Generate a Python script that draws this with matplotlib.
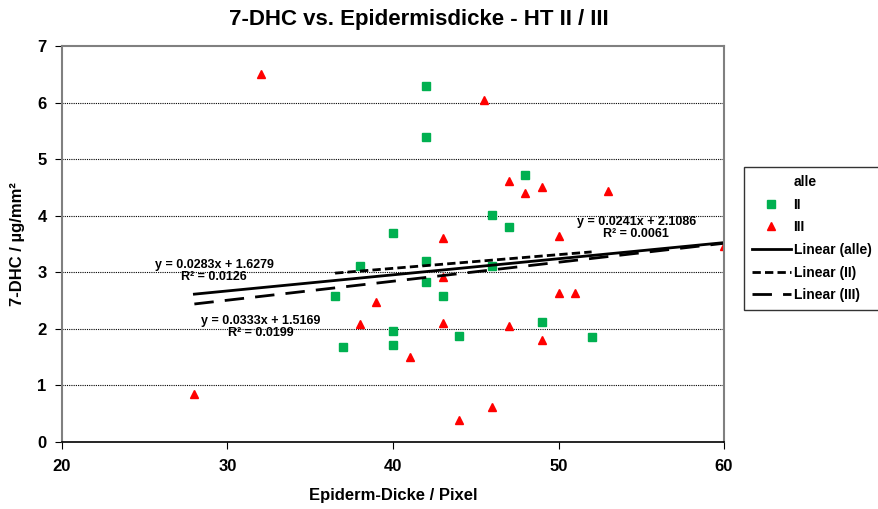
import numpy as np
import matplotlib.pyplot as plt

plt.rcParams['font.family'] = ['Liberation Sans', 'DejaVu Sans']
plt.rcParams['font.weight'] = 'bold'

# HT II
x2 = [36.5, 37, 38, 40, 40, 40, 42, 42, 42, 42, 43, 44, 46, 46, 47, 48, 49, 52]
y2 = [2.58, 1.68, 3.12, 3.70, 1.97, 1.72, 6.30, 5.40, 3.20, 2.83, 2.58, 1.87, 4.02, 3.12, 3.80, 4.72, 2.12, 1.85]
# HT III
x3 = [28, 32, 38, 39, 41, 43, 43, 43, 44, 45.5, 46, 47, 47, 48, 49, 49, 50, 50, 51, 53, 60]
y3 = [0.85, 6.50, 2.08, 2.47, 1.51, 3.60, 2.91, 2.10, 0.39, 6.05, 0.62, 4.62, 2.05, 4.40, 4.50, 1.81, 3.65, 2.63, 2.63, 4.43, 3.46]

x_all = x2 + x3
y_all = y2 + y3

eq_texts = ["y = 0.0283x + 1.6279\nR² = 0.0126",
            "y = 0.0333x + 1.5169\nR² = 0.0199",
            "y = 0.0241x + 2.1086\nR² = 0.0061"]
eq_pos = [(29.2, 3.02), (32.0, 2.04), (54.7, 3.78)]

fig = plt.figure(figsize=(8.79, 5.09), dpi=100)
ax = fig.add_axes([0.0705, 0.1316, 0.7532, 0.778])

ax.plot([], [], ls='none', label='alle')
ax.plot(x2, y2, 's', color='#00B050', ms=6, label='II')
ax.plot(x3, y3, '^', color='#FF0000', ms=6, label='III')

def trend(xs, ys):
    k, d = np.polyfit(xs, ys, 1)
    xx = np.array([min(xs), max(xs)])
    return xx, k * xx + d

xa, ya = trend(x_all, y_all)
xb, yb = trend(x2, y2)
xc, yc = trend(x3, y3)
ax.plot(xa, ya, color='black', lw=2, label='Linear (alle)')
ax.plot(xb, yb, color='black', lw=2, dashes=(3, 1.5), label='Linear (II)')
ax.plot(xc, yc, color='black', lw=2, dashes=(7, 4), label='Linear (III)')

for t, (px, py) in zip(eq_texts, eq_pos):
    ax.text(px, py, t, ha='center', va='center', fontsize=9, fontweight='bold',
            linespacing=1.0)

ax.set_xlim(20, 60)
ax.set_ylim(0, 7)
ax.set_xticks(range(20, 61, 10))
ax.set_yticks(range(0, 8))
for yv in range(1, 7):
    ax.axhline(yv, color='black', lw=0.8, ls=(0, (1, 1)), zorder=0)

for s in ['left', 'top', 'right']:
    ax.spines[s].set_color('#808080')
    ax.spines[s].set_linewidth(1.5)
ax.spines['bottom'].set_color('black')
ax.spines['bottom'].set_linewidth(1.2)
ax.tick_params(direction='out', length=5, labelsize=12)
ax.tick_params(axis='x', pad=7)
ax.tick_params(axis='y', pad=6)
for lbl in ax.get_xticklabels() + ax.get_yticklabels():
    lbl.set_fontweight('bold')

fig.text(419 / 879, 1 - 19 / 509, "7-DHC vs. Epidermisdicke - HT II / III",
         fontsize=16, fontweight='bold', ha='center', va='center')
ax.set_xlabel("Epiderm-Dicke / Pixel", fontsize=12, fontweight='bold', labelpad=10)
ax.set_ylabel("7-DHC / µg/mm²", fontsize=12, fontweight='bold', labelpad=9)

leg = fig.legend(loc='upper left', bbox_to_anchor=(0.838, 0.686), fontsize=10,
                 frameon=True, fancybox=False, edgecolor='black', handlelength=2.8,
                 borderpad=0.6, labelspacing=0.62, handletextpad=0.2)
leg.get_frame().set_linewidth(1)

fig.savefig('out.png', dpi=100)
